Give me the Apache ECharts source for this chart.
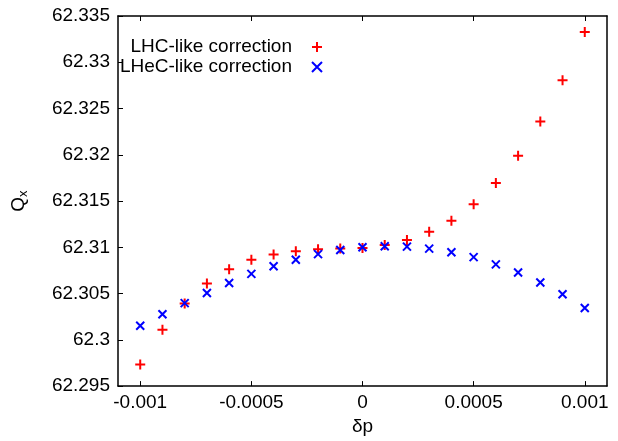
<!DOCTYPE html>
<html>
<head>
<meta charset="utf-8"/>
<title>Qx vs dp</title>
<script src="https://cdn.jsdelivr.net/npm/echarts@6/dist/echarts.min.js"></script>
<style>
  html, body { margin: 0; padding: 0; background: #fff; }
</style>
</head>
<body>
<div id="main" style="width:618px;height:441px;"></div>
<script type="text/javascript">
// momentum deviation, -0.001 .. 0.001
var dp = [-0.001, -0.0009, -0.0008, -0.0007, -0.0006, -0.0005, -0.0004, -0.0003, -0.0002, -0.0001,
          0, 0.0001, 0.0002, 0.0003, 0.0004, 0.0005, 0.0006, 0.0007, 0.0008, 0.0009, 0.001];
var qxLHC = [62.29734, 62.30110, 62.30394, 62.30610, 62.30763, 62.30865, 62.30922, 62.30957, 62.30979, 62.30986,
             62.30993, 62.31025, 62.31078, 62.31167, 62.31287, 62.31465, 62.31695, 62.31990, 62.32359, 62.32805, 62.33327];
var qxLHeC = [62.30152, 62.30277, 62.30397, 62.30507, 62.30614, 62.30713, 62.30795, 62.30865, 62.30926, 62.30971,
              62.31000, 62.31011, 62.31007, 62.30986, 62.30947, 62.30894, 62.30816, 62.30727, 62.30620, 62.30493, 62.30344];
var xTicks = [-0.001, -0.0005, 0, 0.0005, 0.001];

var FONT = '"Liberation Sans", Arial, Helvetica, sans-serif';
var FS = 19;

function pairs(xs, ys) {
    return xs.map(function (x, i) { return [x, ys[i]]; });
}

var dom = document.getElementById('main');
var chart = echarts.init(dom, null, {renderer: 'canvas'});

var option = {
    backgroundColor: '#ffffff',
    animation: false,
    textStyle: {fontFamily: FONT},
    grid: {left: 118, right: 11, top: 16, bottom: 49, containLabel: false},
    legend: {
        orient: 'vertical',
        align: 'right',
        right: 290,
        top: 32,
        itemWidth: 40,
        itemHeight: 10,
        itemGap: 0,
        textStyle: {fontSize: FS, color: '#000', fontFamily: FONT, lineHeight: 20},
        itemStyle: {borderWidth: 2},
        data: ['LHC-like correction', 'LHeC-like correction']
    },
    xAxis: [{
        type: 'value',
        min: -0.0011,
        max: 0.0011,
        name: 'δp',
        nameLocation: 'middle',
        nameGap: 30,
        nameTextStyle: {fontSize: FS, color: '#000', fontFamily: FONT},
        axisLine: {onZero: false, lineStyle: {color: '#000', width: 1.5}},
        axisTick: {inside: true, length: 5, customValues: xTicks, lineStyle: {color: '#000'}},
        axisLabel: {
            customValues: xTicks,
            fontSize: FS, color: '#000', margin: 7,
            formatter: function (v) { return String(+v.toFixed(4)); }
        },
        splitLine: {show: false}
    }, {
        type: 'value',
        position: 'top',
        min: -0.0011,
        max: 0.0011,
        axisLine: {onZero: false, lineStyle: {color: '#000', width: 1.5}},
        axisTick: {inside: true, length: 5, customValues: xTicks, lineStyle: {color: '#000'}},
        axisLabel: {show: false},
        splitLine: {show: false}
    }],
    yAxis: [{
        type: 'value',
        min: 62.295,
        max: 62.335,
        interval: 0.005,
        name: '{q|Q}{s|x}',
        nameLocation: 'middle',
        nameGap: 88,
        nameTextStyle: {
            color: '#000',
            rich: {
                q: {fontSize: FS, fontFamily: FONT, color: '#000'},
                s: {fontSize: 13, fontFamily: FONT, color: '#000', verticalAlign: 'bottom', padding: [9, 0, 0, 0]}
            }
        },
        axisLine: {show: true, onZero: false, lineStyle: {color: '#000', width: 1.5}},
        axisTick: {inside: true, length: 5, lineStyle: {color: '#000'}},
        axisLabel: {
            fontSize: FS, color: '#000', margin: 8,
            formatter: function (v) { return String(+v.toFixed(3)); }
        },
        splitLine: {show: false}
    }, {
        type: 'value',
        position: 'right',
        min: 62.295,
        max: 62.335,
        interval: 0.005,
        axisLine: {show: true, onZero: false, lineStyle: {color: '#000', width: 1.5}},
        axisTick: {show: false},
        axisLabel: {show: false},
        splitLine: {show: false}
    }],
    series: [{
        name: 'LHC-like correction',
        type: 'scatter',
        symbol: 'path://M0,5L10,5M5,0L5,10',
        symbolSize: 10,
        itemStyle: {color: '#ff0000', borderColor: '#ff0000', borderWidth: 2, opacity: 1},
        data: pairs(dp, qxLHC)
    }, {
        name: 'LHeC-like correction',
        type: 'scatter',
        symbol: 'path://M0,0L10,10M0,10L10,0',
        symbolSize: 8,
        itemStyle: {color: '#0000ff', borderColor: '#0000ff', borderWidth: 2, opacity: 1},
        data: pairs(dp, qxLHeC)
    }]
};

chart.setOption(option);
</script>
</body>
</html>
